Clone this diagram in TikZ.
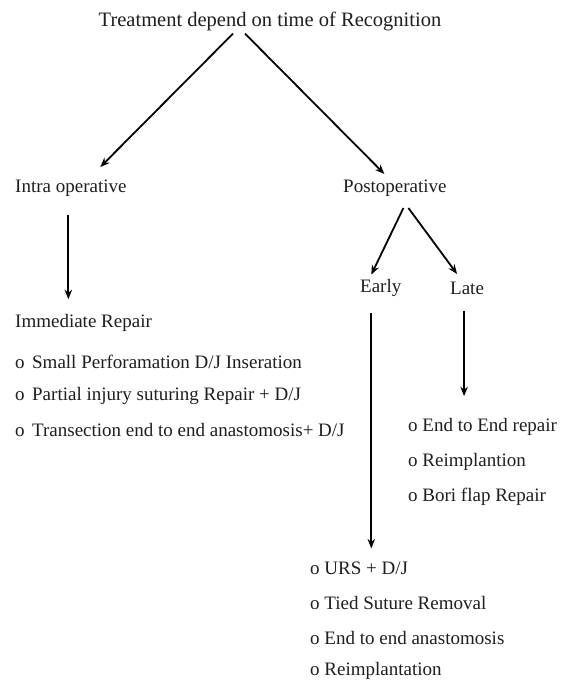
\documentclass[tikz,border=0pt]{standalone}
\usepackage{fontspec}
\setmainfont{Liberation Serif}
\usetikzlibrary{arrows.meta}
\begin{document}
\begin{tikzpicture}[x=1pt,y=-1pt,
  txt/.style={inner sep=0pt,font=\fontsize{19}{21}\selectfont,text=black!88},
  arr/.style={line width=1.8pt,-{Stealth[length=9.5pt,width=7.5pt]}}]
\path[use as bounding box,fill=white] (0,0) rectangle (561,681);
% nodes
\node[txt,font=\fontsize{20.5}{22}\selectfont] (title) at (270,21) {Treatment depend on time of Recognition};
\node[txt,anchor=west] (intra) at (15,188) {Intra operative};
\node[txt,anchor=west] (postop) at (343,188) {Postoperative};
\node[txt,anchor=west] (imm) at (15,323) {Immediate Repair};
\node[txt,anchor=west] (i1) at (15,362) {\makebox[17pt][l]{o}Small Perforamation D/J Inseration};
\node[txt,anchor=west] (i2) at (15,396) {\makebox[17pt][l]{o}Partial injury suturing Repair + D/J};
\node[txt,anchor=west] (i3) at (15,430) {\makebox[17pt][l]{o}Transection end to end anastomosis+ D/J};
\node[txt,anchor=west] (early) at (360,288) {Early};
\node[txt,anchor=west] (late) at (450,288) {Late};
\node[txt,anchor=west] (l1) at (408,427) {o End to End repair};
\node[txt,anchor=west] (l2) at (408,462) {o Reimplantion};
\node[txt,anchor=west] (l3) at (408,497) {o Bori flap Repair};
\node[txt,anchor=west] (e1) at (310,568) {o URS + D/J};
\node[txt,anchor=west] (e2) at (310,603) {o Tied Suture Removal};
\node[txt,anchor=west] (e3) at (310,638) {o End to end anastomosis};
\node[txt,anchor=west] (e4) at (310,671) {o Reimplantation};
% connectors
\draw[arr] ([xshift=-37pt,yshift=-3pt]title.south) -- ([xshift=29.5pt,yshift=12.5pt]intra.north);
\draw[arr] ([xshift=-25pt,yshift=-3pt]title.south) -- ([xshift=-10.5pt,yshift=5.5pt]postop.north);
\coordinate (ia) at ([xshift=-2.5pt,yshift=-18pt]intra.south);
\draw[arr,shorten >=15pt] (ia) -- (ia |- imm.north);
\draw[arr] ([xshift=8.5pt,yshift=-11.5pt]postop.south) -- ([xshift=-9.5pt,yshift=4.5pt]early.north);
\draw[arr] ([xshift=13.5pt,yshift=-11.5pt]postop.south) -- ([xshift=-10pt,yshift=7.5pt]late.north);
\coordinate (ea) at ([xshift=-9.5pt,yshift=-16pt]early.south);
\draw[arr,shorten >=13pt] (ea) -- (ea |- e1.north);
\coordinate (la) at ([xshift=-3pt,yshift=-16pt]late.south);
\draw[arr,shorten >=22pt] (la) -- (la |- l1.north);
\end{tikzpicture}
\end{document}
